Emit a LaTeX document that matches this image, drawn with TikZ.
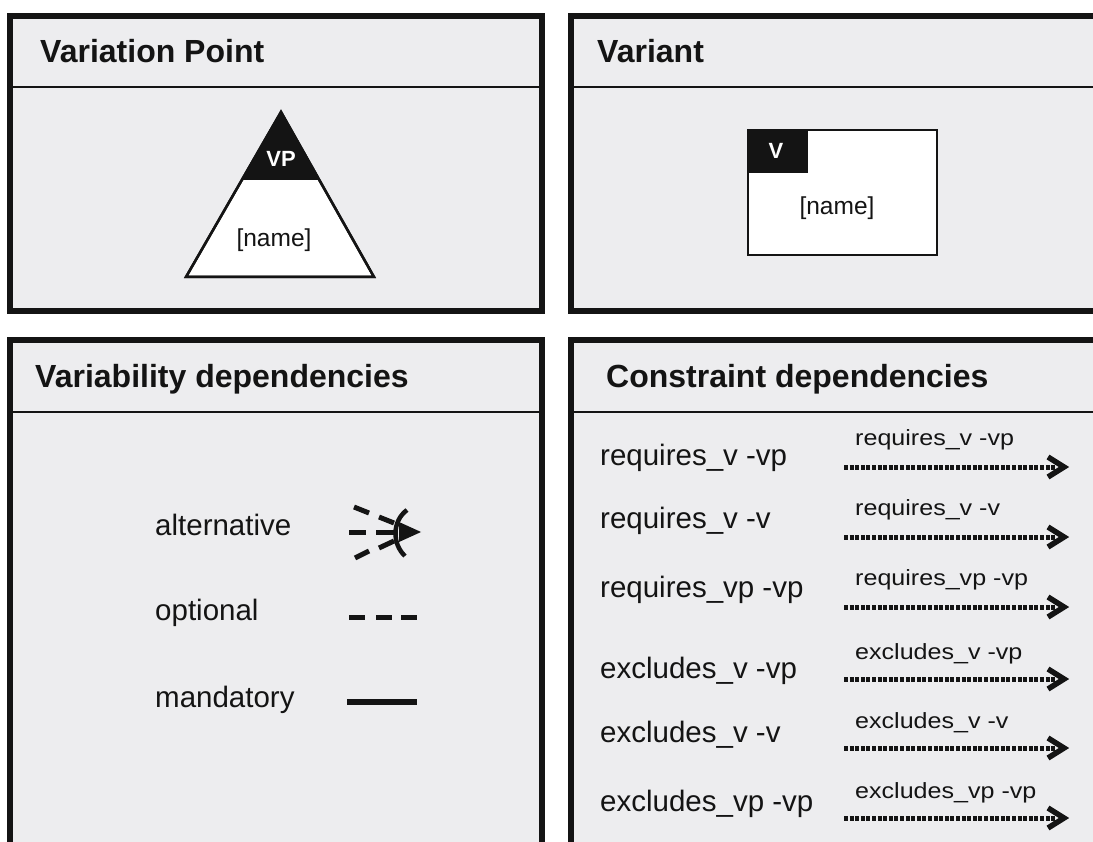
\documentclass[tikz,border=0pt]{standalone}
\usepackage{fontspec}
\setmainfont{Liberation Sans}
\definecolor{panelgrey}{HTML}{EDEDEF}
\definecolor{ink}{HTML}{141414}
\newcommand\fsz[1]{\fontsize{#1}{#1}\selectfont}

\begin{document}
\begin{tikzpicture}[x=1pt,y=-1pt,
  panel/.style={draw=ink, line width=5.5pt, fill=panelgrey},
  divider/.style={draw=ink, line width=2.5pt},
  head/.style={anchor=base west, inner sep=0pt, text=ink, font=\fsz{32}\bfseries},
  body/.style={anchor=base west, inner sep=0pt, text=ink, font=\fsz{29.5}},
  small/.style={anchor=base west, inner sep=0pt, text=ink, font=\fsz{22}},
  sym/.style={draw=ink, line width=5pt},
  dots/.style={draw=ink, line width=5pt, dash pattern=on 4pt off 1.6pt},
  chev/.style={draw=ink, line width=5.5pt, line join=miter},
  outline/.style={draw=ink, line width=2.5pt, fill=white}
]
\useasboundingbox (0,0) rectangle (1093,842);
\clip (0,0) rectangle (1093,842);
\fill[white] (0,0) rectangle (1093,842);

% ---- four panels ----
\draw[panel] (10,16) rectangle (542,311);
\draw[divider] (10,87) -- (542,87);
\draw[panel] (571,16) rectangle (1110,311);
\draw[divider] (571,87) -- (1110,87);
\draw[panel] (10,340) rectangle (542,900);
\draw[divider] (10,412) -- (542,412);
\draw[panel] (571,340) rectangle (1110,900);
\draw[divider] (571,412) -- (1110,412);

\node[head] (hvp) at (40,63) {Variation Point};
\node[head] (hv) at (597,63) {Variant};
\node[head] (hvd) at (35,388) {Variability dependencies};
\node[head] (hcd) at (606,388) {Constraint dependencies};

% ---- variation point triangle ----
\draw[outline, line join=miter] (281,112) -- (374,277) -- (186,277) -- cycle;
\fill[ink] (281,112) -- (319.3,180) -- (241.9,180) -- cycle;
\draw[ink, line width=2.5pt, line join=miter] (281,112) -- (374,277) -- (186,277) -- cycle;
\node[text=white, font=\fsz{22}\bfseries] (vptag) at (281,159) {VP};
\node[text=ink, font=\fsz{24.5}] (vpname) at (274,240) {[name]};

% ---- variant box ----
\draw[outline] (748,130) rectangle (937,255);
\fill[ink] (748,130) rectangle (808,173);
\draw[ink, line width=2.5pt] (748,130) rectangle (937,255);
\node[text=white, font=\fsz{22}\bfseries] (vtag) at (776,151) {V};
\node[text=ink, font=\fsz{24.5}] (vname) at (837,208) {[name]};

% ---- variability dependencies ----
\node[body] (alt) at (155,535) {alternative};
\node[body] (opt) at (155,620) {optional};
\node[body] (man) at (155,707) {mandatory};

% alternative: dashes converging on a bracket with a filled arrowhead
\draw[sym] (354,507) -- (369,513);
\draw[sym] (349,532) -- (366,532);
\draw[sym] (355,558) -- (369,551);
\draw[sym] (379,517) -- (394,523);
\draw[sym] (376,532) -- (394,532);
\draw[sym] (379,548) -- (394,541);
\fill[ink] (399,522) -- (421,532) -- (399,542) -- cycle;
\draw[sym, line width=4.5pt] (407,510) .. controls (392,521) and (392,544) .. (405,556);

% optional: dashed line
\draw[sym] (349,617) -- (365,617);
\draw[sym] (376,617) -- (392,617);
\draw[sym] (401,617) -- (417,617);

% mandatory: solid line
\draw[sym, line width=6pt] (347,702) -- (417,702);

% ---- constraint dependencies ----
\foreach \i/\my/\ly/\ay/\lab in {
  1/465/446/467/requires\_v -vp,
  2/528/515/537/requires\_v -v,
  3/597/585/607/requires\_vp -vp,
  4/678/659/679/excludes\_v -vp,
  5/742/728/748/excludes\_v -v,
  6/811/798/818/excludes\_vp -vp}{
  \node[body] (m\i) at (600,\my) {\lab};
  \node[small] (l\i) at (855,\ly) {\scalebox{1.14}[1]{\lab}};
  \coordinate (s\i) at (844,\ay);
  \coordinate (e\i) at (1056,\ay);
  \draw[dots] (s\i) -- (e\i);
  \draw[chev] ([shift={(-8,-10)}]e\i) -- ([shift={(8,0)}]e\i) -- ([shift={(-8,10)}]e\i);
}
\end{tikzpicture}
\end{document}
